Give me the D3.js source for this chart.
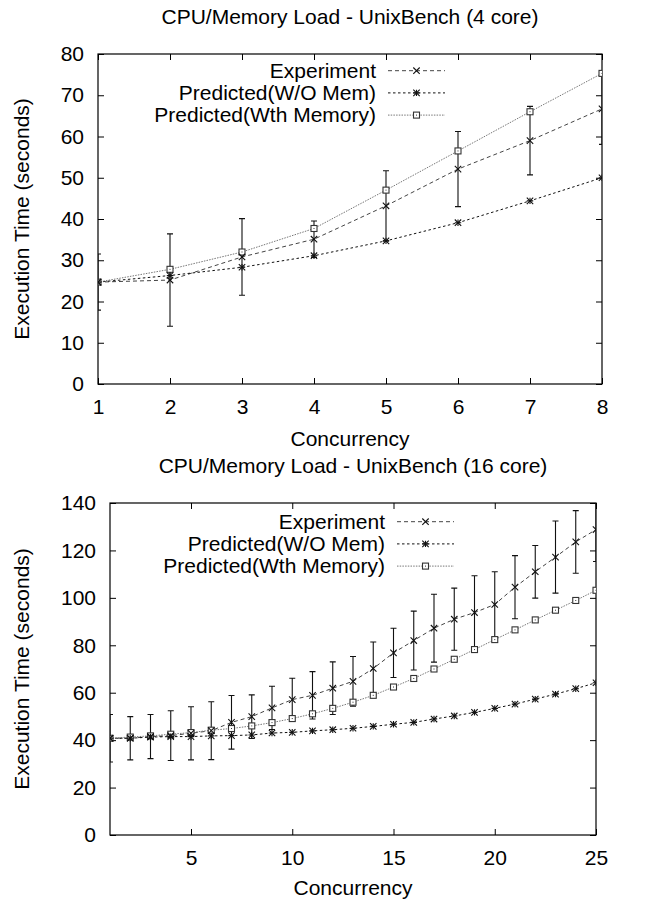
<!DOCTYPE html>
<html>
<head>
<meta charset="utf-8">
<script src="https://cdn.jsdelivr.net/npm/d3@7"></script>
<style>
  html, body { margin: 0; padding: 0; background: #fff; }
  svg { display: block; }
  text { font-family: "Liberation Sans", Arial, Helvetica, sans-serif; fill: #000; }
</style>
</head>
<body>
<svg id="chart" width="648" height="908"></svg>
<script>
// ---- 4-core run ----
const concurrency4 = [1, 2, 3, 4, 5, 6, 7, 8];
const experiment4 = [24.7, 25.2, 30.8, 35.1, 43.2, 52.1, 59.0, 66.7];
const experimentErr4 = [6.8, 11.2, 9.3, 4.4, 8.5, 9.1, 8.3, 8.6];
const predictedNoMem4 = [24.7, 26.3, 28.3, 31.1, 34.7, 39.1, 44.4, 50.0];
const predictedMem4 = [24.7, 27.8, 32.0, 37.7, 47.0, 56.5, 66.0, 75.3];
const xTicks4 = [1, 2, 3, 4, 5, 6, 7, 8];
const yTicks4 = [0, 10, 20, 30, 40, 50, 60, 70, 80];

// ---- 16-core run ----
const concurrency16 = [1, 2, 3, 4, 5, 6, 7, 8, 9, 10, 11, 12, 13, 14, 15, 16, 17, 18, 19, 20, 21, 22, 23, 24, 25];
const experiment16 = [40.8, 40.8, 41.5, 41.9, 42.9, 44.0, 47.5, 49.9, 53.6, 57.1, 58.9, 61.9, 64.8, 70.2, 76.8,
                      82.0, 87.2, 91.0, 93.8, 97.2, 104.5, 111.0, 117.2, 123.6, 128.8];
const experimentErr16 = [10.0, 9.1, 9.3, 10.5, 11.2, 12.2, 11.3, 9.2, 9.1, 9.0, 10.0, 11.1, 10.5, 11.2, 10.4,
                         12.4, 14.3, 13.1, 15.5, 13.8, 13.3, 11.1, 15.2, 13.2, 13.5];
const predictedNoMem16 = [40.8, 40.8, 41.3, 41.5, 41.5, 41.8, 41.9, 42.2, 43.0, 43.3, 43.9, 44.4, 45.0, 45.8, 46.7,
                          47.5, 48.9, 50.2, 51.7, 53.4, 55.2, 57.3, 59.4, 61.7, 64.2];
const predictedMem16 = [40.8, 41.3, 41.8, 42.5, 43.2, 44.2, 44.9, 46.0, 47.4, 49.1, 51.1, 53.4, 56.0, 58.9, 62.4,
                        66.0, 70.0, 74.1, 78.2, 82.4, 86.5, 90.7, 94.8, 98.9, 103.2];
const xTicks16 = [5, 10, 15, 20, 25];
const yTicks16 = [0, 20, 40, 60, 80, 100, 120, 140];

const seriesNames = ["Experiment", "Predicted(W/O Mem)", "Predicted(Wth Memory)"];

const FONT = 21;
const svg = d3.select("#chart");

const styles = [
  { stroke: "#444", dash: "4,3", marker: "cross" },
  { stroke: "#111", dash: "2.5,2.5", marker: "star" },
  { stroke: "#777", dash: "1.5,1.2", marker: "square" }
];

function drawMarker(g, type, x, y, color) {
  const r = 3.2;
  const m = g.append("g").attr("transform", `translate(${x},${y})`)
    .attr("stroke", color).attr("stroke-width", 1.1).attr("fill", "none");
  if (type === "cross" || type === "star") {
    m.append("path").attr("d", `M${-r},${-r}L${r},${r}M${-r},${r}L${r},${-r}`);
  }
  if (type === "star") {
    m.append("path").attr("d", `M0,${-r}L0,${r}M${-r},0L${r},0`);
  }
  if (type === "square") {
    m.append("rect").attr("x", -3).attr("y", -3).attr("width", 6).attr("height", 6).attr("fill", "#fff");
    m.append("rect").attr("x", -0.5).attr("y", -0.5).attr("width", 1).attr("height", 1).attr("fill", color).attr("stroke", "none");
  }
}

function drawChart(cfg) {
  const { left, right, top, bottom } = cfg.box;
  const x = d3.scaleLinear().domain(cfg.xDomain).range([left, right]);
  const y = d3.scaleLinear().domain(cfg.yDomain).range([bottom, top]);
  const g = svg.append("g");
  const clipId = "clip-" + cfg.id;
  g.append("clipPath").attr("id", clipId)
    .append("rect").attr("x", left).attr("y", top).attr("width", right - left).attr("height", bottom - top);

  // axes with inward ticks on all four sides
  g.append("g").attr("transform", `translate(0,${bottom})`)
    .call(d3.axisBottom(x).tickValues(cfg.xTicks).tickSize(-6).tickPadding(cfg.xPad).tickFormat(d3.format("d")));
  g.append("g").attr("transform", `translate(${left},0)`)
    .call(d3.axisLeft(y).tickValues(cfg.yTicks).tickSize(-6).tickPadding(cfg.yPad).tickFormat(d3.format("d")));
  g.append("g").attr("transform", `translate(0,${top})`)
    .call(d3.axisTop(x).tickValues(cfg.xTicks).tickSize(-6).tickFormat(""));
  g.append("g").attr("transform", `translate(${right},0)`)
    .call(d3.axisRight(y).tickValues(cfg.yTicks).tickSize(-6).tickFormat(""));
  g.selectAll(".domain").remove();
  g.selectAll(".tick line").attr("stroke", "#000");
  g.selectAll(".tick text").attr("font-size", FONT).attr("font-family", '"Liberation Sans", Arial, sans-serif');

  g.append("rect").attr("x", left).attr("y", top).attr("width", right - left).attr("height", bottom - top)
    .attr("fill", "none").attr("stroke", "#000").attr("stroke-width", 1.2);

  // title and axis labels
  g.append("text").attr("x", (left + right) / 2).attr("y", cfg.titleY)
    .attr("text-anchor", "middle").attr("font-size", FONT).text(cfg.title);
  g.append("text").attr("x", (left + right) / 2).attr("y", cfg.xLabelY)
    .attr("text-anchor", "middle").attr("font-size", FONT).text("Concurrency");
  g.append("text").attr("transform", `translate(29,${(top + bottom) / 2}) rotate(-90)`)
    .attr("text-anchor", "middle").attr("font-size", FONT).text("Execution Time (seconds)");

  const plot = g.append("g").attr("clip-path", `url(#${clipId})`);
  const series = [cfg.exp, cfg.noMem, cfg.mem];
  const line = d3.line().x((d, i) => x(cfg.xs[i])).y(d => y(d));

  series.forEach((vals, k) => {
    plot.append("path").datum(vals).attr("d", line)
      .attr("fill", "none").attr("stroke", styles[k].stroke)
      .attr("stroke-width", 1).attr("stroke-dasharray", styles[k].dash);
  });

  // error bars on the measured series
  cfg.exp.forEach((v, i) => {
    const cx = x(cfg.xs[i]);
    const y1 = y(v + cfg.err[i]), y2 = y(v - cfg.err[i]);
    plot.append("path")
      .attr("d", `M${cx},${y1}L${cx},${y2}M${cx - 3},${y1}L${cx + 3},${y1}M${cx - 3},${y2}L${cx + 3},${y2}`)
      .attr("stroke", "#111").attr("stroke-width", 1.1).attr("fill", "none");
  });

  [2, 1, 0].forEach(k => {
    series[k].forEach((v, i) => drawMarker(plot, styles[k].marker, x(cfg.xs[i]), y(v), k === 2 ? "#333" : "#111"));
  });

  // legend
  const lg = g.append("g");
  seriesNames.forEach((name, k) => {
    const ly = cfg.legend.y + k * 22.2;
    lg.append("text").attr("x", cfg.legend.textX).attr("y", ly).attr("dy", "0.35em")
      .attr("text-anchor", "end").attr("font-size", FONT).text(name);
    lg.append("line").attr("x1", cfg.legend.lineX).attr("x2", cfg.legend.lineX + 57)
      .attr("y1", ly).attr("y2", ly).attr("stroke", styles[k].stroke)
      .attr("stroke-width", 1).attr("stroke-dasharray", styles[k].dash);
    drawMarker(lg, styles[k].marker, cfg.legend.lineX + 28.5, ly, k === 2 ? "#333" : "#111");
  });
}

drawChart({
  id: "c4",
  box: { left: 98, right: 602, top: 54, bottom: 384 },
  xDomain: [1, 8], yDomain: [0, 80],
  xTicks: xTicks4, yTicks: yTicks4, xPad: 15, yPad: 14,
  xs: concurrency4, exp: experiment4, err: experimentErr4,
  noMem: predictedNoMem4, mem: predictedMem4,
  title: "CPU/Memory Load - UnixBench (4 core)", titleY: 24, xLabelY: 446,
  legend: { y: 70.7, textX: 376, lineX: 388 }
});

drawChart({
  id: "c16",
  box: { left: 110, right: 596, top: 503, bottom: 835 },
  xDomain: [1, 25], yDomain: [0, 140],
  xTicks: xTicks16, yTicks: yTicks16, xPad: 15, yPad: 14,
  xs: concurrency16, exp: experiment16, err: experimentErr16,
  noMem: predictedNoMem16, mem: predictedMem16,
  title: "CPU/Memory Load - UnixBench (16 core)", titleY: 473, xLabelY: 895,
  legend: { y: 521.7, textX: 385, lineX: 397 }
});
</script>
</body>
</html>
